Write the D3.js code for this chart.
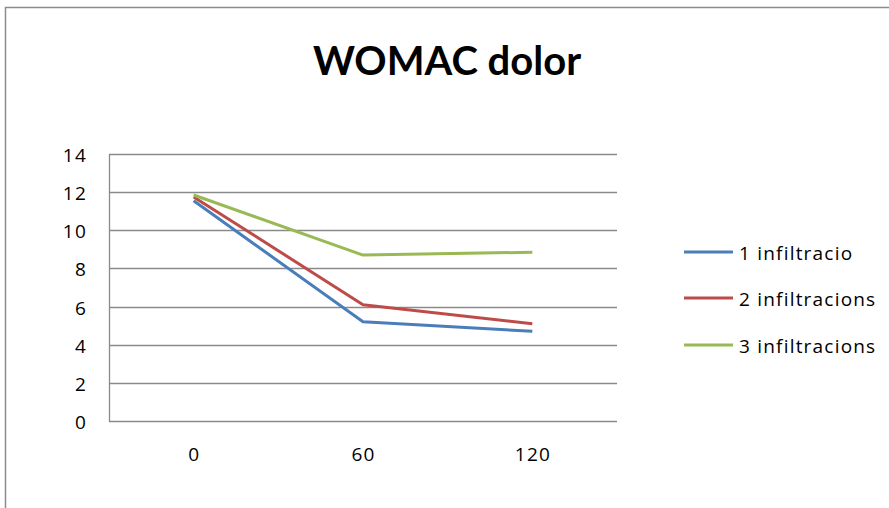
<!DOCTYPE html>
<html><head><meta charset="utf-8">
<script src="https://cdn.jsdelivr.net/npm/d3@7"></script>
<style>body{margin:0;background:#fff}svg{display:block}</style>
</head><body><svg id="c" width="889" height="508"></svg>
<script>
const categories = ["0", "60", "120"];
const seriesNames = ["1 infiltracio", "2 infiltracions", "3 infiltracions"];
const series1 = [11.55, 5.2, 4.7];
const series2 = [11.75, 6.1, 5.1];
const series3 = [11.85, 8.7, 8.85];
const yTicks = [0, 2, 4, 6, 8, 10, 12, 14];
const colors = ["#4A7EBB", "#BE4B48", "#98B954"];
const allSeries = [series1, series2, series3];

const svg = d3.select("#c");
const font = "'Open Sans', Lato, sans-serif";
svg.append("rect").attr("x",5.5).attr("y",7.5).attr("width",1000).attr("height",1000)
  .attr("fill","#fff").attr("stroke","#8c8c8c").attr("stroke-width",1.5);

svg.append("text").attr("x",447).attr("y",75).attr("text-anchor","middle")
  .attr("font-family","Lato, sans-serif").attr("font-weight","bold").attr("font-size",40)
  .text("WOMAC dolor");

const pLeft=109, pRight=617, pTop=154, pBottom=421;
const x = d3.scaleBand().domain(categories).range([pLeft,pRight]);
const y = d3.scaleLinear().domain([0,14]).range([pBottom,pTop]);

const g = svg.append("g");
g.selectAll("line.grid").data(yTicks).join("line")
  .attr("x1",pLeft).attr("x2",pRight).attr("y1",d=>Math.round(y(d))+0.5).attr("y2",d=>Math.round(y(d))+0.5)
  .attr("stroke","#8a8a8a").attr("stroke-width",1.3);
g.append("line").attr("x1",pLeft+0.5).attr("x2",pLeft+0.5).attr("y1",pTop).attr("y2",pBottom+1)
  .attr("stroke","#8a8a8a").attr("stroke-width",1.3);

g.selectAll("text.yt").data(yTicks).join("text")
  .attr("x",87).attr("y",d=>y(d)+8).attr("text-anchor","end").attr("letter-spacing",1.2)
  .attr("font-family",font).attr("font-size",19).attr("fill","#000").text(d=>d);
g.selectAll("text.xt").data(categories).join("text")
  .attr("x",d=>x(d)+x.bandwidth()/2+0.6).attr("y",461).attr("text-anchor","middle").attr("letter-spacing",1.2)
  .attr("font-family",font).attr("font-size",19).attr("fill","#000").text(d=>d);

const line = d3.line().x((d,i)=>x(categories[i])+x.bandwidth()/2).y(d=>y(d));
allSeries.forEach((s,i)=>{
  g.append("path").attr("d",line(s)).attr("fill","none").attr("stroke",colors[i])
    .attr("stroke-width",3).attr("stroke-linejoin","round");
});

const ly = [252, 298, 345];
seriesNames.forEach((n,i)=>{
  svg.append("line").attr("x1",684).attr("x2",733).attr("y1",ly[i]).attr("y2",ly[i])
    .attr("stroke",colors[i]).attr("stroke-width",3);
  svg.append("text").attr("x",739).attr("y",ly[i]+8).attr("font-family",font).attr("letter-spacing",1.2)
    .attr("font-size",19).attr("fill","#000").text(n);
});
</script></body></html>
